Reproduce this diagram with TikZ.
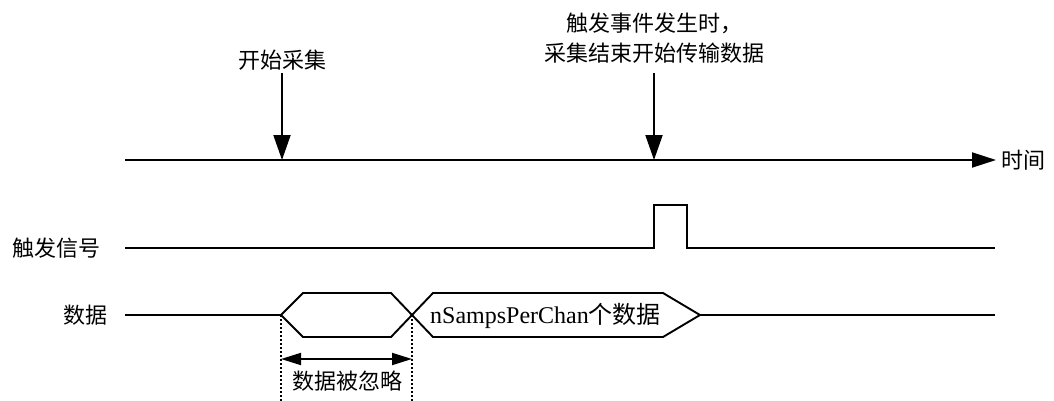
\documentclass[tikz,border=0pt]{standalone}
\usepackage{fontspec}
\setmainfont{Liberation Serif}
\newfontfamily\cjk{Noto Sans CJK SC}
\usetikzlibrary{arrows.meta}
\begin{document}
\begin{tikzpicture}[x=1pt,y=-1pt,
  sig/.style={line width=1.9pt, line join=miter},
  pointer/.style={line width=1.9pt, -{Triangle[length=25pt,width=17pt]}},
  axisline/.style={line width=1.9pt, -{Triangle[length=24pt,width=15pt]}},
  span/.style={line width=1.9pt, {Triangle[length=20pt,width=12pt]}-{Triangle[length=20pt,width=12pt]}},
  guide/.style={line width=1.7pt, dash pattern=on 2pt off 2pt},
  lbl/.style={inner sep=0pt, font=\cjk\fontsize{22pt}{30pt}\selectfont, align=center},
]
\useasboundingbox (0,0) rectangle (1054,401);

% time axis
\coordinate (t0) at (125,160);
\coordinate (t1) at (996,160);
\draw[axisline] (t0) -- (t1);
\node[lbl, anchor=west] (tlabel) at (1001,160) {时间};

% event markers
\node[lbl] (start) at (282,60) {开始采集};
\coordinate (startTip) at (282,160);
\draw[pointer] (282,73) coordinate (startTail) -- (startTip);

\node[lbl] (trig) at (654,38) {触发事件发生时，\\采集结束开始传输数据};
\coordinate (trigTip) at (654,160);
\draw[pointer] (654,73) coordinate (trigTail) -- (trigTip);

% trigger signal
\node[lbl, anchor=east] (trigname) at (101,248) {触发信号};
\coordinate (g0) at (125,248);
\coordinate (g1) at (654,248);
\coordinate (g2) at (687,248);
\coordinate (g3) at (995,248);
\draw[sig] (g0) -- (g1) -- (654,205) -- (687,205) -- (g2) -- (g3);

% data bus
\node[lbl, anchor=east] (dataname) at (108,315) {数据};
\coordinate (d0) at (125,315);
\coordinate (a) at (281,315);
\coordinate (b) at (412,315);
\coordinate (c) at (700,315);
\coordinate (d1) at (995,315);
\draw[sig] (d0) -- (a);
\draw[sig] (a) -- (303,293) -- (391,293) -- (b) -- (391,337) -- (303,337) -- cycle;
\draw[sig] (b) -- (433,293) -- (663,293) -- (c) -- (663,337) -- (433,337) -- cycle;
\draw[sig] (c) -- (d1);
\node[inner sep=0pt, anchor=west, font=\fontsize{24pt}{28pt}\selectfont] (count) at (430,316)
  {nSampsPerChan{\cjk 个数据}};

% ignored interval
\coordinate (aBot) at (281,401);
\coordinate (bBot) at (412,401);
\draw[guide] (a) -- (aBot);
\draw[guide] (b) -- (bBot);
\draw[span] (281,359) coordinate (sa) -- (412,359) coordinate (sb);
\node[lbl] (ignored) at (347,381) {数据被忽略};
\end{tikzpicture}
\end{document}
